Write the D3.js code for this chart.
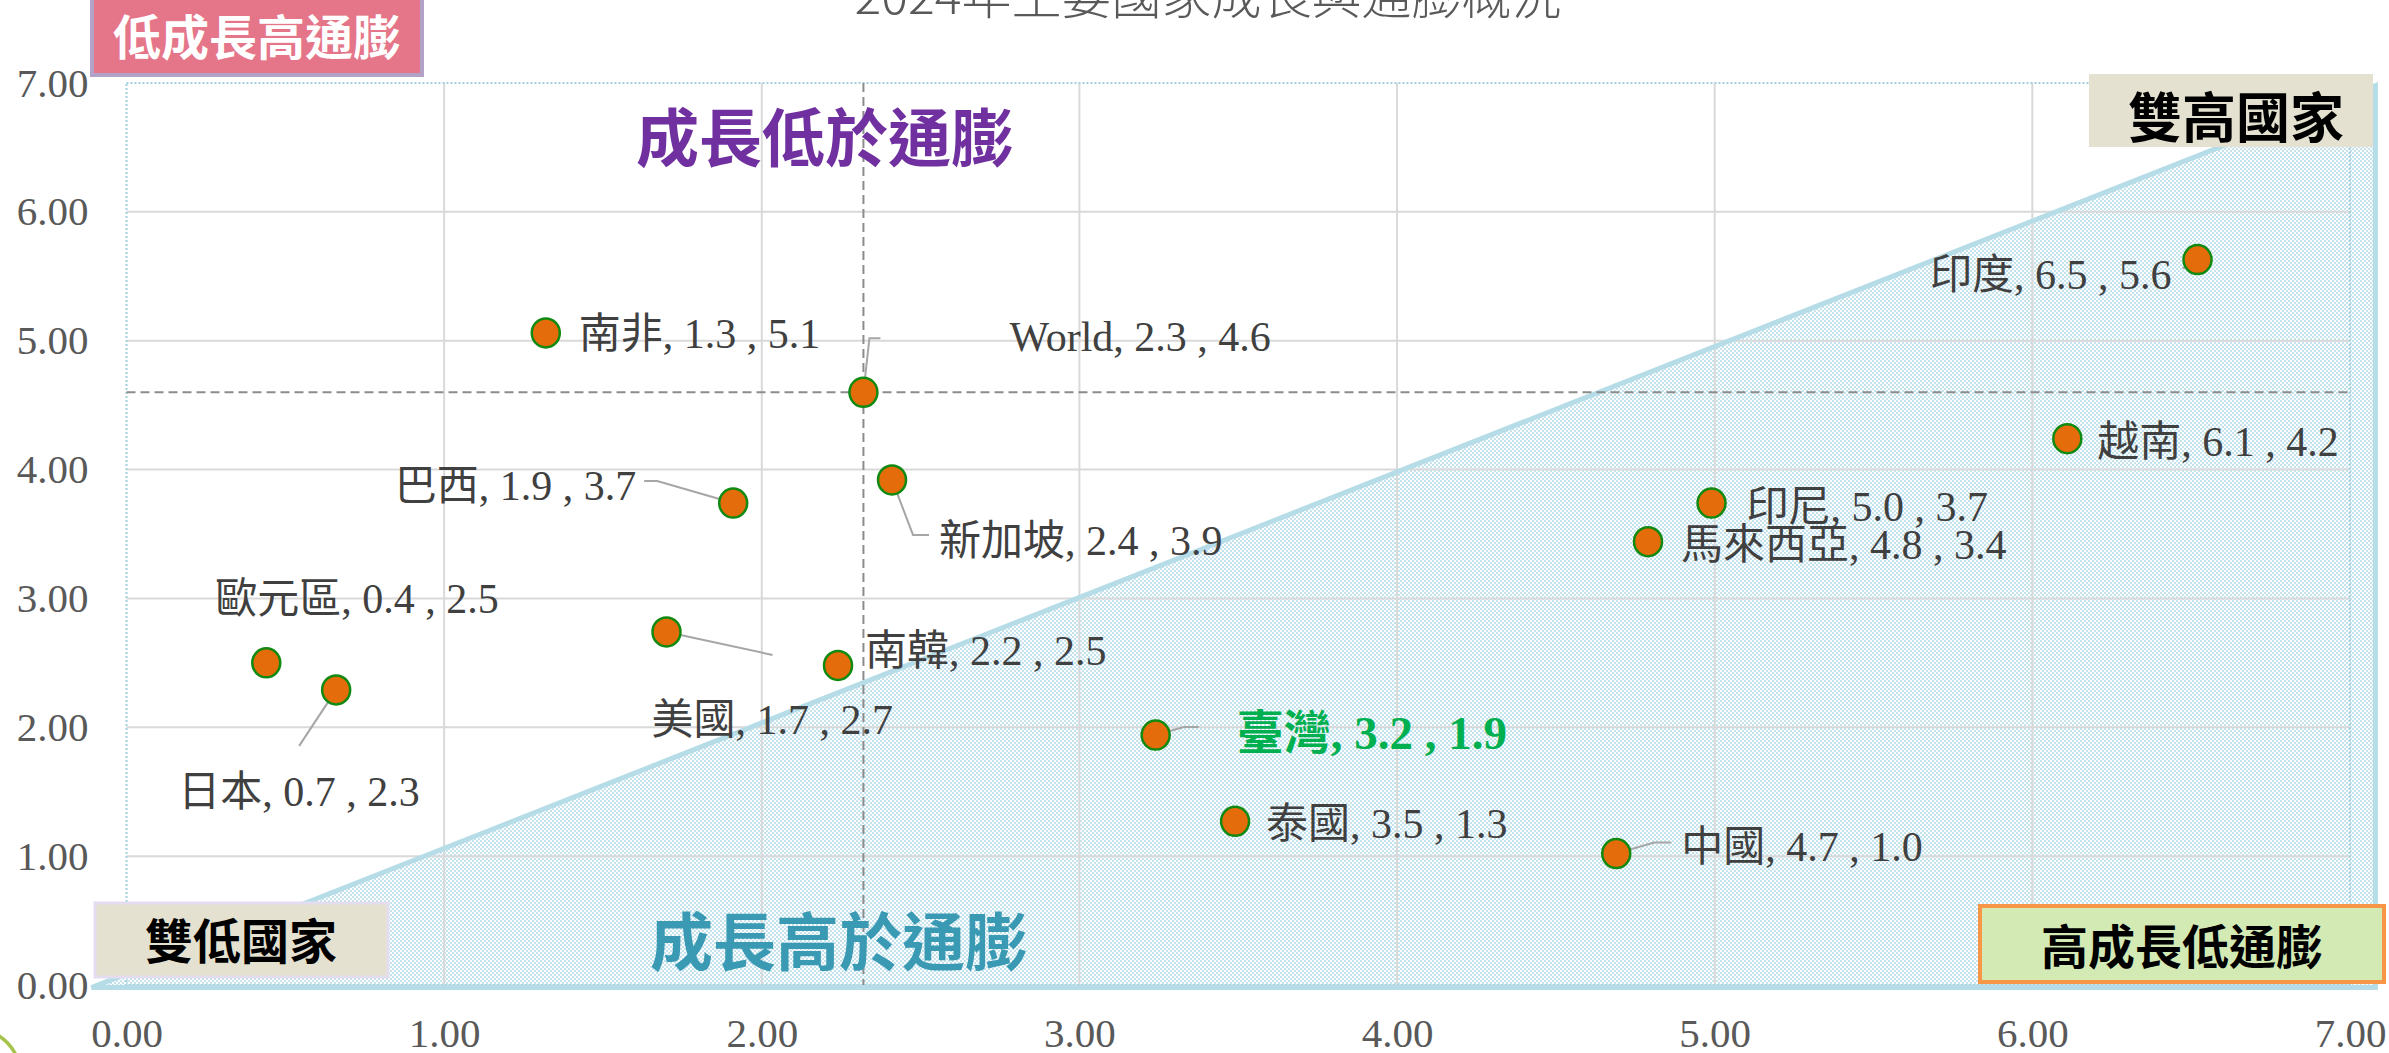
<!DOCTYPE html>
<html><head><meta charset="utf-8">
<script src="https://cdn.jsdelivr.net/npm/d3@7"></script>
<style>html,body{margin:0;padding:0;background:#fff;overflow:hidden}</style>
</head><body><svg id="chart" width="2389" height="1053"></svg>
<script>
// ---------- data ----------
const countries = ["南非","World","巴西","新加坡","歐元區","日本","美國","南韓","臺灣","泰國","中國","馬來西亞","印尼","越南","印度"];
const growth    = [1.32, 2.32, 1.91, 2.41, 0.44, 0.66, 1.70, 2.24, 3.24, 3.49, 4.69, 4.79, 4.99, 6.11, 6.52];
const inflation = [5.06, 4.60, 3.74, 3.92, 2.50, 2.29, 2.74, 2.48, 1.94, 1.27, 1.02, 3.44, 3.74, 4.24, 5.63];
const xTickValues = [0,1,2,3,4,5,6,7];
const yTickValues = [0,1,2,3,4,5,6,7];
const gridValues = [1,2,3,4,5,6];
const referenceName = "World";
const highlightName = "臺灣";
const chartTitle = "2024年主要國家成長與通膨概況";
const zoneTriangle = [[-0.11,-0.02],[7.08,6.98],[7.08,-0.02]];

// ---------- layout ----------
const W = 2389, H = 1053;
const plot = {left:126.5, right:2350, top:83, bottom:985};
const labelLayout = {
 "南非":{dx:33,dy:1,anchor:"start"},
 "World":{dx:146,dy:-55,anchor:"start"},
 "巴西":{dx:-97,dy:-17,anchor:"end"},
 "新加坡":{dx:47,dy:61,anchor:"start"},
 "歐元區":{dx:-51,dy:-64,anchor:"start"},
 "日本":{dx:-158,dy:102,anchor:"start"},
 "美國":{dx:-15,dy:88,anchor:"start"},
 "南韓":{dx:27,dy:-14,anchor:"start"},
 "臺灣":{dx:81,dy:-2,anchor:"start"},
 "泰國":{dx:31,dy:3,anchor:"start"},
 "中國":{dx:65,dy:-7,anchor:"start"},
 "馬來西亞":{dx:33,dy:3,anchor:"start"},
 "印尼":{dx:35,dy:4,anchor:"start"},
 "越南":{dx:30,dy:3,anchor:"start"},
 "印度":{dx:-26,dy:15,anchor:"end"}
};
const leaderLayout = {
 "World":[[0,0],[6,-54],[17,-54]],
 "巴西":[[0,0],[-76,-22],[-89,-22]],
 "新加坡":[[0,0],[21,55],[37,55]],
 "日本":[[0,0],[-37,56]],
 "美國":[[0,0],[106,23]],
 "臺灣":[[0,0],[28,-8],[43,-8]],
 "中國":[[0,0],[38,-11],[55,-11]],
 "印度":[[0,0],[-15,9]]
};
const LATIN = "'Liberation Serif','Times New Roman','Noto Sans CJK TC',serif";
const CJK = "'Noto Sans CJK TC','Noto Sans CJK SC',sans-serif";

const svg = d3.select("#chart");
const x = d3.scaleLinear().domain([0,7]).range([plot.left, plot.right]);
const y = d3.scaleLinear().domain([0,7]).range([plot.bottom, plot.top]);

// pattern for zone
const defs = svg.append("defs");
const pat = defs.append("pattern").attr("id","dots").attr("patternUnits","userSpaceOnUse")
  .attr("width",4).attr("height",4);
pat.append("rect").attr("width",4).attr("height",4).attr("fill","#ffffff").attr("fill-opacity",0.55);
pat.append("rect").attr("x",0).attr("y",0).attr("width",2).attr("height",2).attr("fill","#c4e3ee");
pat.append("rect").attr("x",2).attr("y",2).attr("width",2).attr("height",2).attr("fill","#c4e3ee");

// title
svg.append("text").attr("x",1208).attr("y",14).attr("text-anchor","middle")
  .attr("font-family",CJK).attr("font-weight",300).attr("font-size",50).attr("fill","#595959")
  .text(chartTitle);

// zone fill
const triLine = d3.line().x(d=>x(d[0])).y(d=>y(d[1]));
svg.append("path").attr("d", triLine(zoneTriangle)+"Z").attr("fill","url(#dots)");

// grid
svg.append("g").selectAll("line.v").data(gridValues).join("line")
  .attr("x1",d=>x(d)).attr("x2",d=>x(d)).attr("y1",plot.top).attr("y2",plot.bottom)
  .attr("stroke","#d9d9d9").attr("stroke-width",2);
svg.append("g").selectAll("line.h").data(gridValues).join("line")
  .attr("y1",d=>y(d)).attr("y2",d=>y(d)).attr("x1",plot.left).attr("x2",plot.right)
  .attr("stroke","#d9d9d9").attr("stroke-width",2);

// plot border (dotted)
svg.append("rect").attr("x",plot.left).attr("y",plot.top)
  .attr("width",plot.right-plot.left).attr("height",plot.bottom-plot.top)
  .attr("fill","none").attr("stroke","#9fd0dc").attr("stroke-width",2).attr("stroke-dasharray","2,2");

// zone outline
svg.append("path").attr("d", triLine(zoneTriangle)+"Z").attr("fill","none")
  .attr("stroke","#b5dce7").attr("stroke-width",5).attr("stroke-linejoin","miter");

// axes
const xAxis = svg.append("g").attr("transform",`translate(0,${plot.bottom})`)
  .call(d3.axisBottom(x).tickValues(xTickValues).tickFormat(d3.format(".2f")).tickSize(0).tickPadding(33));
const yAxis = svg.append("g").attr("transform",`translate(${plot.left},0)`)
  .call(d3.axisLeft(y).tickValues(yTickValues).tickFormat(d3.format(".2f")).tickSize(0).tickPadding(38));
[xAxis,yAxis].forEach(a=>{
  a.select(".domain").remove();
  a.selectAll("text").attr("font-family",LATIN).attr("font-size",41).attr("fill","#595959");
});

// reference crosshair
const ri = countries.indexOf(referenceName);
svg.append("line").attr("x1",x(growth[ri])).attr("x2",x(growth[ri])).attr("y1",plot.top).attr("y2",plot.bottom)
  .attr("stroke","#8c8c8c").attr("stroke-width",2).attr("stroke-dasharray","9,5");
svg.append("line").attr("y1",y(inflation[ri])).attr("y2",y(inflation[ri])).attr("x1",plot.left).attr("x2",plot.right)
  .attr("stroke","#8c8c8c").attr("stroke-width",2).attr("stroke-dasharray","9,5");

// leaders
const pts = countries.map((c,i)=>({name:c, gx:growth[i], iy:inflation[i], px:x(growth[i]), py:y(inflation[i])}));
svg.append("g").selectAll("polyline").data(pts.filter(p=>leaderLayout[p.name])).join("polyline")
  .attr("points",p=>leaderLayout[p.name].map(o=>[p.px+o[0],p.py+o[1]].join(",")).join(" "))
  .attr("fill","none").attr("stroke","#a6a6a6").attr("stroke-width",2);

// points
svg.append("g").selectAll("ellipse").data(pts).join("ellipse")
  .attr("cx",p=>p.px).attr("cy",p=>p.py).attr("rx",14).attr("ry",14.5)
  .attr("fill","#e46c0a").attr("stroke","#118a11").attr("stroke-width",2.5);

// labels
const f1 = d3.format(".1f");
svg.append("g").selectAll("text").data(pts).join("text")
  .attr("x",p=>p.px+labelLayout[p.name].dx).attr("y",p=>p.py+labelLayout[p.name].dy)
  .attr("text-anchor",p=>labelLayout[p.name].anchor).attr("dominant-baseline","central")
  .attr("font-family",LATIN)
  .attr("font-size",p=>p.name===highlightName?47:42)
  .attr("font-weight",p=>p.name===highlightName?700:400)
  .attr("fill",p=>p.name===highlightName?"#00b050":"#404040")
  .text(p=>`${p.name}, ${f1(p.gx)} , ${f1(p.iy)}`);

// quadrant captions
svg.append("text").attr("x",825).attr("y",133).attr("text-anchor","middle").attr("dominant-baseline","central")
  .attr("font-family",CJK).attr("font-weight",700).attr("font-size",63).attr("fill","#7030a0").text("成長低於通膨");
svg.append("text").attr("x",839).attr("y",937).attr("text-anchor","middle").attr("dominant-baseline","central")
  .attr("font-family",CJK).attr("font-weight",700).attr("font-size",63).attr("fill","#3a9ab4").text("成長高於通膨");

// boxes
function box(x0,y0,x1,y1,fill,stroke,sw,txt,cx,cy,fs,color){
  svg.append("rect").attr("x",x0).attr("y",y0).attr("width",x1-x0).attr("height",y1-y0)
    .attr("fill",fill).attr("stroke",stroke).attr("stroke-width",sw);
  svg.append("text").attr("x",cx).attr("y",cy).attr("text-anchor","middle").attr("dominant-baseline","central")
    .attr("font-family",CJK).attr("font-weight",700).attr("font-size",fs).attr("fill",color).text(txt);
}
box(92,-6,422,75,"#e57589","#b3a2c7",4,"低成長高通膨",257,34,48,"#ffffff");
box(2089,74,2373,147,"#e4e1d1","none",0,"雙高國家",2236,114,54,"#000000");
box(95,903,388,977,"#e4e1d1","#e4ddef",3,"雙低國家",241,938,48,"#000000");
box(1980,906,2384,982,"#d3eab5","#f79646",4,"高成長低通膨",2182,943,47,"#000000");

// decorative arc bottom-left
svg.append("circle").attr("cx",-25).attr("cy",1074).attr("r",45)
  .attr("fill","none").attr("stroke","#a4c44a").attr("stroke-width",3.5);
</script></body></html>
